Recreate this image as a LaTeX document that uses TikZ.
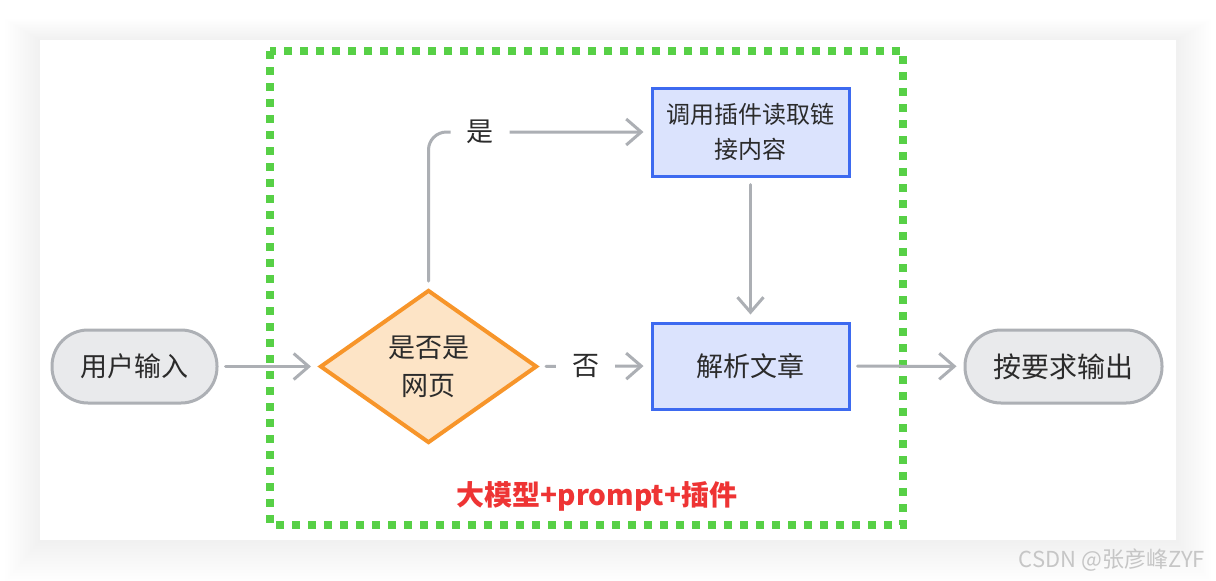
\documentclass[tikz,border=0pt]{standalone}
\usepackage{fontspec}
\setmainfont{Noto Sans CJK SC}
\usetikzlibrary{shapes.geometric,arrows.meta}

\definecolor{linegray}{HTML}{ACAFB4}
\definecolor{pillfill}{HTML}{E9EAEC}
\definecolor{pillline}{HTML}{ADB0B5}
\definecolor{diafill}{HTML}{FDE4C6}
\definecolor{dialine}{HTML}{F7952A}
\definecolor{boxfill}{HTML}{DBE3FD}
\definecolor{boxline}{HTML}{3D6AF0}
\definecolor{dotgreen}{HTML}{57D046}
\definecolor{labred}{HTML}{EE3434}
\definecolor{txt}{HTML}{2B2B2B}

\begin{document}
\begin{tikzpicture}[x=0.5pt, y=-0.5pt,
		every node/.style={text=txt, font=\fontsize{13.5}{16}\selectfont},
		pill/.style={rectangle, draw=pillline, fill=pillfill, line width=1.5pt, rounded corners=18pt, minimum height=36.5pt},
		decision/.style={diamond, draw=dialine, fill=diafill, line width=2pt, minimum width=108.5pt, minimum height=76.5pt, shape aspect=1.42, inner sep=0pt, align=center},
		stepbox/.style={rectangle, draw=boxline, fill=boxfill, line width=1.5pt, minimum width=98.5pt, align=center},
		arr/.style={draw=linegray, line width=1.5pt, line cap=round, -{Straight Barb[length=7.5pt, width=13pt, line width=1.5pt]}, shorten <=3.5pt, shorten >=3.5pt},
		lab/.style={fill=white, inner xsep=8pt, inner ysep=2pt}]
			\useasboundingbox (0, 0) rectangle (1216, 580);
			\fill [white] (0, 0) rectangle (1216, 580);
			% soft shadow of the card
			\foreach \i in {1,...,14}
				\fill [black, opacity=0.005] (40-2.5*\i, 40-1.5*\i) rectangle (1176+2.5*\i, 540+3*\i);
			\fill [white] (40, 40) rectangle (1176, 540);

			\draw [dotgreen, line width=4pt, dash pattern=on 4pt off 4pt] (270, 51) rectangle (903, 525);

			\node (in) [pill, minimum width=82.5pt] at (134.5, 366.5) {用户输入};
			\node (dec) [decision, font=\fontsize{13.5}{19}\selectfont] at (428.5, 366.5) {是否是\\网页};
			\node (plug) [stepbox, minimum height=44pt, font=\fontsize{12}{17.5}\selectfont] at (750.5, 132) {调用插件读取链\\接内容};
			\node (parse) [stepbox, minimum height=43pt] at (750.5, 366) {解析文章};
			\node (out) [pill, minimum width=98.5pt, font=\fontsize{14}{16}\selectfont] at (1063.5, 366.5) {按要求输出};

			\draw [arr] (in) -- (dec);
			\draw [arr, rounded corners=9pt] (dec.north) |- node [lab, pos=0.616] {是} (plug.west);
			\draw [arr] (dec.east) -- node [lab, pos=0.417] {否} (parse.west);
			\draw [arr] (plug) -- (parse);
			\draw [arr] (parse) -- (out);

			\node (tag) [text=labred, font=\fontsize{14}{16}\selectfont\bfseries] at (597, 496) {大模型+prompt+插件};
			\node (mark) [text=gray!45, font=\fontsize{11}{12}\selectfont] at (1112, 560) {CSDN @张彦峰ZYF};
		\end{tikzpicture}
\end{document}
